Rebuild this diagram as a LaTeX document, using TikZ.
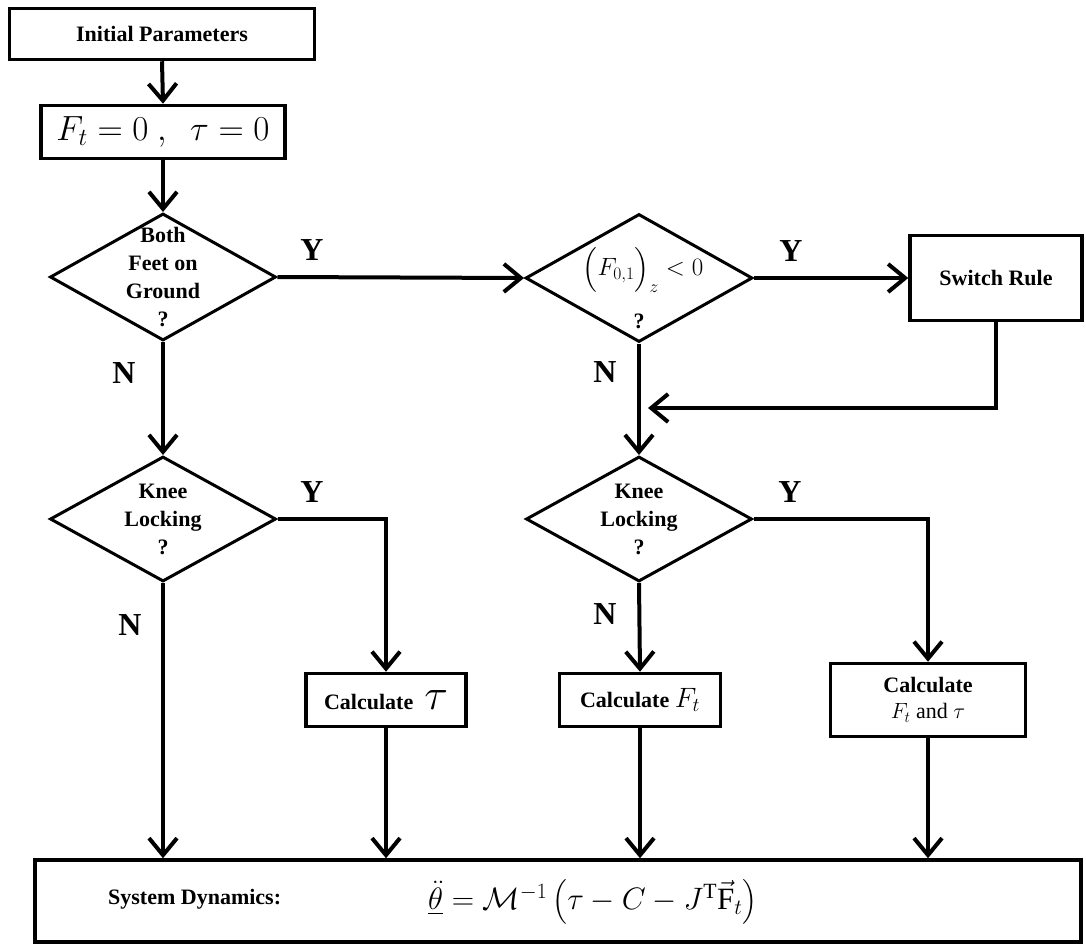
\RequirePackage{fix-cm}
\documentclass[tikz,border=0pt]{standalone}
\usepackage{amsmath}
\usepackage{fontspec}
\setmainfont{Liberation Serif}
\usetikzlibrary{shapes.geometric,arrows.meta,calc}
\newcommand{\myboxfont}{\fontsize{22}{28}\selectfont\bfseries}
\newcommand{\myynfont}{\fontsize{32}{34}\selectfont\bfseries}
\begin{document}
\begin{tikzpicture}[x=1pt,y=-1pt,
  box/.style={draw, line width=3.5pt, inner sep=0pt, align=center, font=\myboxfont},
  dia/.style={draw, diamond, line width=3pt, inner sep=0pt},
  dtext/.style={align=center, font=\myboxfont, inner sep=0pt},
  flow/.style={line width=4pt, -{Straight Barb[length=17pt, width=28pt, line width=4pt]}},
  yn/.style={font=\myynfont, inner sep=0pt}]
\useasboundingbox (0,0) rectangle (1086,947);

% boxes
\node[box, minimum width=305, minimum height=51] (ip) at (162,34) {Initial Parameters};
\node[box, minimum width=244, minimum height=53] (ft) at (163,132) {\fontsize{35}{40}\selectfont\mdseries $F_t = 0\ ,\ \ \tau = 0$};
\node[dia, minimum width=226, minimum height=127] (d1) at (163,277) {};
\node[dtext] at (d1.center) {\fontsize{22}{29}\selectfont Both\\Feet on\\Ground\\?};
\node[dia, minimum width=227, minimum height=128] (d2) at (639,278) {};
\node[dtext] at (643,270) {\fontsize{25}{28}\selectfont\mdseries $\Bigl(F_{0,1}\Bigr)_z<0$};
\node[dtext] at (639,321) {?};
\node[box, minimum width=172, minimum height=85] (sw) at (996,278) {Switch Rule};
\node[dia, minimum width=226, minimum height=125] (k1) at (163,519) {};
\node[dtext] at (k1.center) {Knee\\Locking\\?};
\node[dia, minimum width=226, minimum height=125] (k2) at (639,519) {};
\node[dtext] at (k2.center) {Knee\\Locking\\?};
\node[box, minimum width=160, minimum height=53] (c1) at (386,700) {Calculate\ \ {\fontsize{44}{44}\selectfont$\tau$}};
\node[box, minimum width=161, minimum height=53] (c2) at (640,700) {Calculate {\fontsize{28}{30}\selectfont\mdseries $F_t$}};
\node[box, minimum width=195, minimum height=73] (c3) at (928,700) {Calculate\\[-2pt] {\mdseries $F_t$ and $\tau$}};
\node[box, minimum width=1046, minimum height=82] (sd) at (558,901) {};
\node[dtext, anchor=west] at (108,899) {\fontsize{22}{26}\selectfont System Dynamics:};
\node[dtext, anchor=west] at (428,902) {\fontsize{31}{34}\selectfont\mdseries $\underline{\ddot{\theta}} = \mathcal{M}^{-1}\left(\tau - C - J^{\mathrm{T}}\vec{\mathrm{F}}_t\right)$};

% connectors
\coordinate (j) at (648,408);
\draw[flow] (ip.south) -- (ft.north);
\draw[flow] (ft.south) -- (d1.north);
\draw[flow] (d1.east) -- (d2.west);
\draw[flow] (d2.east) -- (sw.west);
\draw[flow] (d1.south) -- (k1.north);
\draw[flow] (d2.south) -- (k2.north);
\draw[flow] (sw.south) |- (j);
\draw[flow] (k1.east) -| (c1.north);
\draw[flow] (k2.east) -| (c3.north);
\draw[flow] (k2.south) -- (c2.north);
\draw[flow] (k1.south) -- (k1.south |- sd.north);
\draw[flow] (c1.south) -- (c1.south |- sd.north);
\draw[flow] (c2.south) -- (c2.south |- sd.north);
\draw[flow] (c3.south) -- (c3.south |- sd.north);

% Y / N labels
\node[yn] at (312,250) {Y};
\node[yn] at (791,251) {Y};
\node[yn] at (124,373) {N};
\node[yn] at (605,372) {N};
\node[yn] at (312,492) {Y};
\node[yn] at (790,492) {Y};
\node[yn] at (130,625) {N};
\node[yn] at (605,614) {N};
\end{tikzpicture}
\end{document}
